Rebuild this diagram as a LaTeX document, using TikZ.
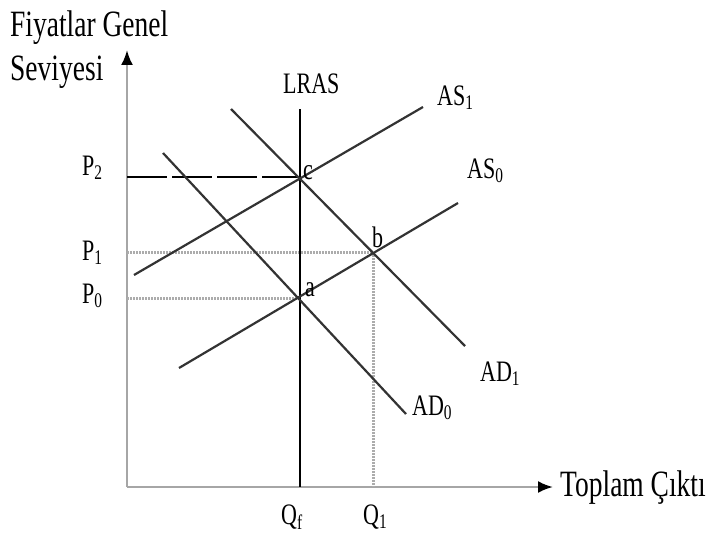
\documentclass[tikz,border=0pt]{standalone}
\usepackage{fontspec}
\setmainfont{Liberation Serif}
\usepackage{graphicx}
\usetikzlibrary{arrows.meta, positioning}
\newcommand{\tallbox}[1]{\scalebox{1}[1.35]{#1}}

\begin{document}
\begin{tikzpicture}[x=1pt, y=-1pt, >=Latex,
        axisline/.style={line width=2.4pt, gray!70, -{Latex[length=15pt, width=12pt, black]}},
        curveline/.style={line width=2.2pt, black!80},
        guideline/.style={line width=3pt, gray!65, dash pattern=on 2pt off 1pt},
        lbl/.style={inner sep=0pt, anchor=base west, font=\fontsize{22}{26}\selectfont},
        axtitle/.style={inner sep=0pt, anchor=base west, font=\fontsize{27.5}{31}\selectfont}]
        \useasboundingbox (0,0) rectangle (709,543);

        % axes
        \coordinate (origin) at (127,487);
        \coordinate (ytop) at (127,50);
        \coordinate (xend) at (553,487);
        \draw[axisline] (origin) -- (ytop);
        \draw[axisline] (origin) -- (xend);

        % equilibrium points
        \coordinate (a) at (300,298);
        \coordinate (b) at (373,252);
        \coordinate (c) at (300,177);
        \coordinate (qffoot) at (300,487);
        \coordinate (qonefoot) at (373,487);
        \coordinate (ptwo) at (127,177);
        \coordinate (pone) at (127,252);
        \coordinate (pzero) at (127,298);

        % curve ends
        \coordinate (lrastop) at (300,109);
        \coordinate (asones) at (134,275);
        \coordinate (asonee) at (423,107);
        \coordinate (aszeros) at (179,368);
        \coordinate (aszeroe) at (458,203);
        \coordinate (adzeros) at (163,153);
        \coordinate (adzeroe) at (406,414);
        \coordinate (adones) at (231,109);
        \coordinate (adonee) at (465,346);

        % guides
        \draw[guideline] (pone) -- (b);
        \draw[guideline] (pzero) -- (a);
        \draw[guideline] (b) -- (qonefoot);
        \draw[curveline, black, dash pattern=on 40pt off 5pt] (ptwo) -- (c);

        % curves
        \draw[curveline, black] (lrastop) -- (qffoot);
        \draw[curveline] (asones) -- (asonee);
        \draw[curveline] (aszeros) -- (aszeroe);
        \draw[curveline] (adzeros) -- (adzeroe);
        \draw[curveline] (adones) -- (adonee);

        % labels
        \node[axtitle] (ytitle) at (10,37) {\tallbox{Fiyatlar Genel}};
        \node[axtitle] (ytitletwo) at (10,80) {\tallbox{Seviyesi}};
        \node[axtitle] (xtitle) at (560,496) {\tallbox{Toplam Çıktı}};
        \node[lbl] (lras) at (283,93) {\tallbox{LRAS}};
        \node[lbl] (asone) at (437,105) {\tallbox{AS\textsubscript{1}}};
        \node[lbl] (aszero) at (467,178) {\tallbox{AS\textsubscript{0}}};
        \node[lbl] (adone) at (480,381) {\tallbox{AD\textsubscript{1}}};
        \node[lbl] (adzero) at (412,415) {\tallbox{AD\textsubscript{0}}};
        \node[lbl] (ptwolbl) at (82,175) {\tallbox{P\textsubscript{2}}};
        \node[lbl] (ponelbl) at (82,260) {\tallbox{P\textsubscript{1}}};
        \node[lbl] (pzerolbl) at (82,303) {\tallbox{P\textsubscript{0}}};
        \node[lbl] (clbl) at (303,179) {\tallbox{c}};
        \node[lbl] (albl) at (305,296) {\tallbox{a}};
        \node[lbl] (blbl) at (372,247) {\tallbox{b}};
        \node[lbl] (qflbl) at (281,524) {\tallbox{Q\textsubscript{f}}};
        \node[lbl] (qonelbl) at (363,524) {\tallbox{Q\textsubscript{1}}};
\end{tikzpicture}
\end{document}
